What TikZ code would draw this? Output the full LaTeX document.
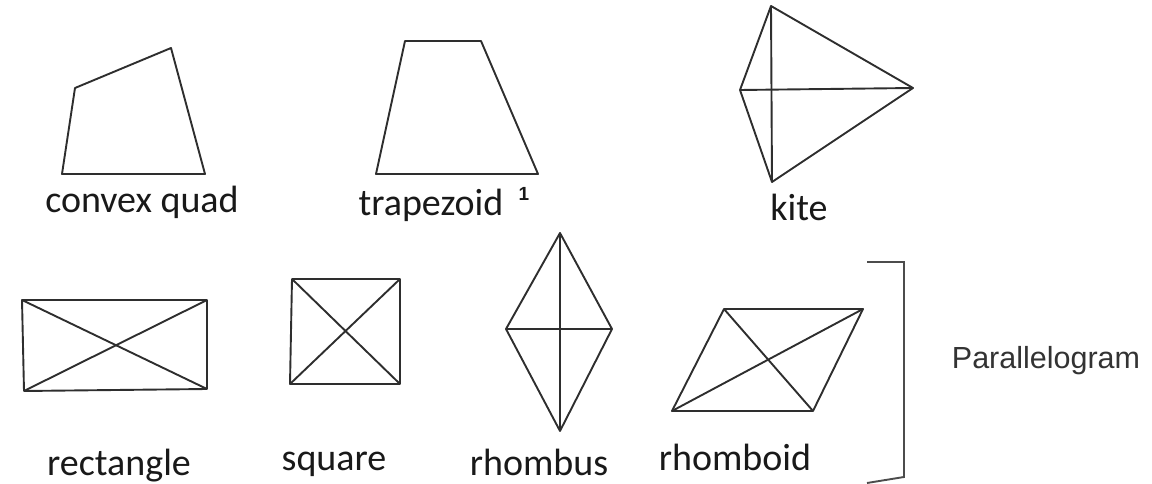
\documentclass[tikz,border=0pt]{standalone}
\usepackage{fontspec}
\setmainfont{Carlito}
\newfontfamily\arialfont{Liberation Sans}
\begin{document}
\begin{tikzpicture}[x=1bp,y=-1bp,
  shp/.style={draw=black!82,line width=1.9bp,line join=round},
  lbl/.style={anchor=base,inner sep=0pt,text=black!90,font=\fontsize{38bp}{44bp}\selectfont},
  brk/.style={draw=black!70,line width=1.9bp}]
\useasboundingbox (0,0) rectangle (1152,484);
% convex quad
\coordinate (q1) at (75,88); \coordinate (q2) at (171,48);
\coordinate (q3) at (205,174); \coordinate (q4) at (62,174);
\draw[shp] (q1) -- (q2) -- (q3) -- (q4) -- cycle;
\node[lbl] (lq) at (142,213) {convex quad};
% trapezoid
\coordinate (t1) at (405,41); \coordinate (t2) at (481,41);
\coordinate (t3) at (538,174); \coordinate (t4) at (376,174);
\draw[shp] (t1) -- (t2) -- (t3) -- (t4) -- cycle;
\node[lbl] (lt) at (431,216) {trapezoid};
\node[anchor=base,inner sep=0pt,text=black!90,font=\arialfont\bfseries\fontsize{19bp}{22bp}\selectfont] (sup1) at (524,201) {1};
% kite
\coordinate (k1) at (771,6); \coordinate (k2) at (913,88);
\coordinate (k3) at (772,182); \coordinate (k4) at (740,90);
\draw[shp] (k1) -- (k2) -- (k3) -- (k4) -- cycle;
\draw[shp] (k1) -- (k3); \draw[shp] (k4) -- (k2);
\node[lbl] (lk) at (799,221) {kite};
% rectangle
\coordinate (r1) at (22,300); \coordinate (r2) at (207,300);
\coordinate (r3) at (207,389); \coordinate (r4) at (24,391);
\draw[shp] (r1) -- (r2) -- (r3) -- (r4) -- cycle;
\draw[shp] (r1) -- (r3); \draw[shp] (r2) -- (r4);
\node[lbl] (lr) at (119,475) {rectangle};
% square
\coordinate (s1) at (292,279); \coordinate (s2) at (400,279);
\coordinate (s3) at (400,384); \coordinate (s4) at (290,384);
\draw[shp] (s1) -- (s2) -- (s3) -- (s4) -- cycle;
\draw[shp] (s1) -- (s3); \draw[shp] (s2) -- (s4);
\node[lbl] (ls) at (334,470) {square};
% rhombus
\coordinate (h1) at (560,233); \coordinate (h2) at (612,329);
\coordinate (h3) at (560,431); \coordinate (h4) at (506,329);
\draw[shp] (h1) -- (h2) -- (h3) -- (h4) -- cycle;
\draw[shp] (h1) -- (h3); \draw[shp] (h4) -- (h2);
\node[lbl] (lh) at (539,475) {rhombus};
% rhomboid
\coordinate (m1) at (724,309); \coordinate (m2) at (863,309);
\coordinate (m3) at (813,411); \coordinate (m4) at (672,411);
\draw[shp] (m1) -- (m2) -- (m3) -- (m4) -- cycle;
\draw[shp] (m1) -- (m3); \draw[shp] (m4) -- (m2);
\node[lbl] (lm) at (735,470) {rhomboid};
% bracket
\coordinate (b1) at (867,262); \coordinate (b2) at (904,262);
\coordinate (b3) at (904,477); \coordinate (b4) at (867,483);
\draw[brk] (b1) -- (b2) -- (b3) -- (b4);
\node[anchor=base,inner sep=0pt,text=black!80,font=\arialfont\fontsize{30.5bp}{36bp}\selectfont] (par) at (1046,369) {Parallelogram};
\end{tikzpicture}
\end{document}
